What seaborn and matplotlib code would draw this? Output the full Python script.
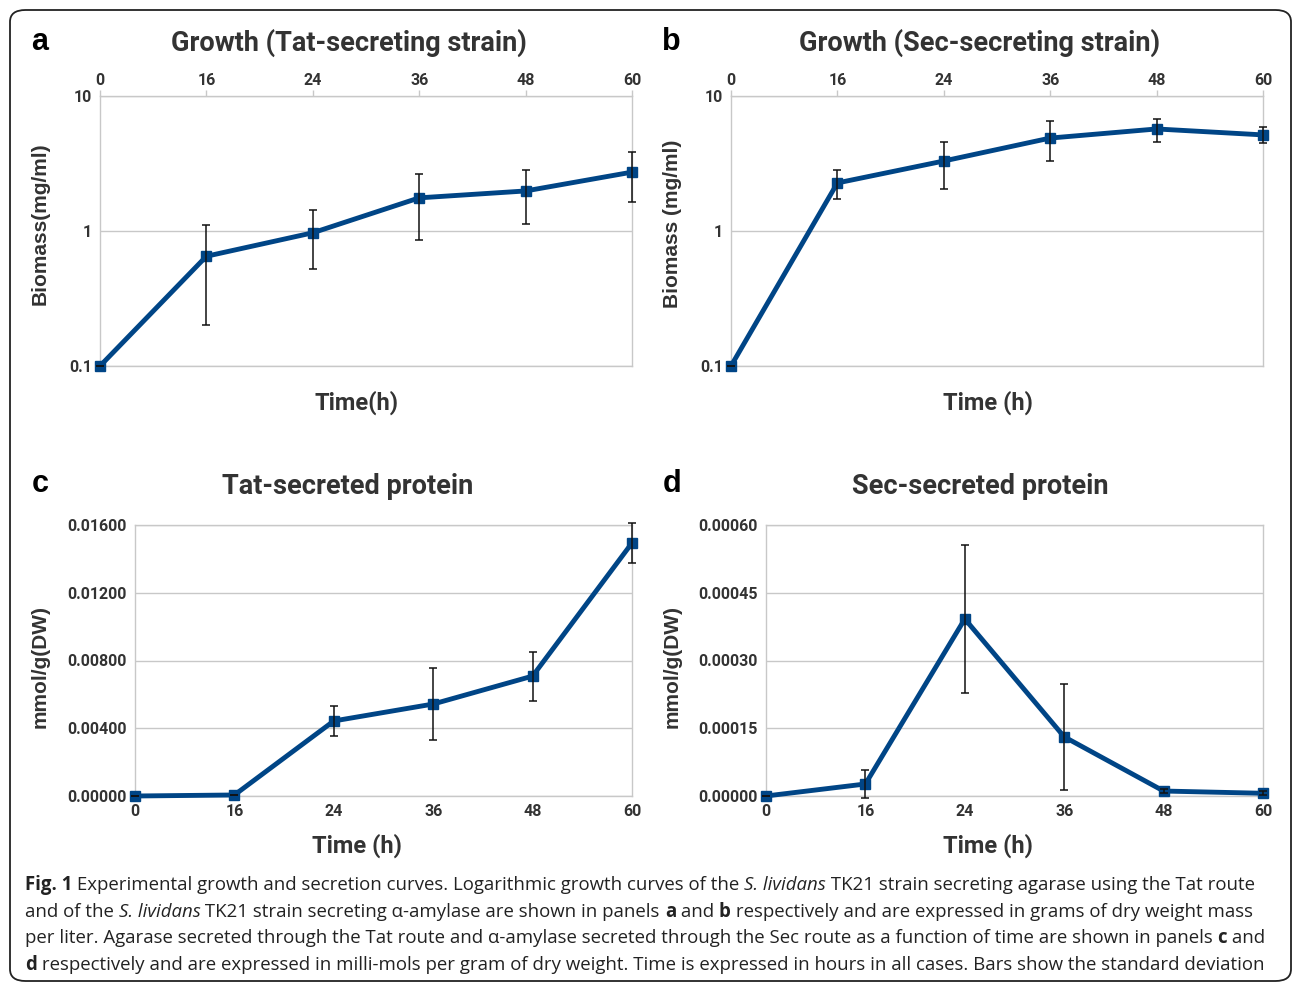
import numpy as np
import pandas as pd
import seaborn as sns
import matplotlib
matplotlib.use("Agg")
import matplotlib.pyplot as plt
from matplotlib.patches import FancyBboxPatch
from matplotlib.ticker import FixedLocator, FixedFormatter, NullLocator

# ---------------- data ----------------
times = ["0", "16", "24", "36", "48", "60"]

tat_growth = [0.10, 0.65, 0.97, 1.76, 1.98, 2.73]
tat_growth_sd = [0.0, 0.45, 0.45, 0.90, 0.85, 1.10]

sec_growth = [0.10, 2.27, 3.30, 4.88, 5.70, 5.15]
sec_growth_sd = [0.0, 0.54, 1.25, 1.60, 1.10, 0.70]

tat_protein = [0.0, 0.00006, 0.00443, 0.00543, 0.00708, 0.01494]
tat_protein_sd = [0.0, 0.00002, 0.00090, 0.00212, 0.00145, 0.00118]

sec_protein = [0.0, 0.0000266, 0.000392, 0.000131, 0.000011, 0.000006]
sec_protein_sd = [0.0, 0.000030, 0.000163, 0.000118, 0.000005, 0.000004]

log_ticks = [0.1, 1, 10]
log_tick_labels = ["0.1", "1", "10"]
tat_ticks = [0.0, 0.004, 0.008, 0.012, 0.016]
tat_tick_labels = ["0.00000", "0.00400", "0.00800", "0.01200", "0.01600"]
sec_ticks = [0.0, 0.00015, 0.00030, 0.00045, 0.00060]
sec_tick_labels = ["0.00000", "0.00015", "0.00030", "0.00045", "0.00060"]

titles = ["Growth (Tat-secreting strain)", "Growth (Sec-secreting strain)",
          "Tat-secreted protein", "Sec-secreted protein"]
letters = ["a", "b", "c", "d"]
xlabels = ["Time(h)", "Time (h)", "Time (h)", "Time (h)"]
ylabels = ["Biomass(mg/ml)", "Biomass (mg/ml)", "mmol/g(DW)", "mmol/g(DW)"]

caption_lines = [
    [("Fig. 1", "bold", "normal"),
     (" Experimental growth and secretion curves. Logarithmic growth curves of the ", "normal", "normal"),
     ("S. lividans", "normal", "italic"),
     (" TK21 strain secreting agarase using the Tat route", "normal", "normal")],
    [("and of the ", "normal", "normal"),
     ("S. lividans", "normal", "italic"),
     (" TK21 strain secreting \u03b1-amylase are shown in panels ", "normal", "normal"),
     ("a", "bold", "normal"), (" and ", "normal", "normal"), ("b", "bold", "normal"),
     (" respectively and are expressed in grams of dry weight mass", "normal", "normal")],
    [("per liter. Agarase secreted through the Tat route and \u03b1-amylase secreted through the Sec route as a function of time are shown in panels ", "normal", "normal"),
     ("c", "bold", "normal"), (" and", "normal", "normal")],
    [("d", "bold", "normal"),
     (" respectively and are expressed in milli-mols per gram of dry weight. Time is expressed in hours in all cases. Bars show the standard deviation", "normal", "normal")],
]

# ---------------- style ----------------
W, H = 1293, 983
sns.set_theme(style="white")
plt.rcParams["font.family"] = ["Liberation Sans", "DejaVu Sans"]
NARROW = ["Roboto", "Liberation Sans", "DejaVu Sans"]
BLUE = "#004586"
GRID = "#c8c8c8"
TXT = "#333333"

fig = plt.figure(figsize=(W / 100, H / 100), dpi=100)
fig.patch.set_facecolor("white")

border = FancyBboxPatch((10 / W, 1 - 981 / H), 1281 / W, 971 / H,
                        boxstyle="round,pad=0,rounding_size=0.012",
                        transform=fig.transFigure, fill=False,
                        edgecolor="#222222", linewidth=1.3)
fig.add_artist(border)


def add_ax(l, t, r, b):
    return fig.add_axes([l / W, 1 - b / H, (r - l) / W, (b - t) / H])


def fx(x):
    return x / W


def fy(y):
    return 1 - y / H


def draw_panel(ax, vals, sd, log, ticks, tick_labels, top):
    pos = list(range(len(times)))
    df = pd.DataFrame({"pos": pos, "val": vals})
    if log:
        ax.set_yscale("log")
    sns.lineplot(data=df, x="pos", y="val", ax=ax, color=BLUE, linewidth=3.5,
                 marker="s", markersize=7.5, markeredgecolor=BLUE,
                 markeredgewidth=1, clip_on=False, zorder=3)
    ax.errorbar(pos, vals, yerr=sd, fmt="none", ecolor="#111111",
                elinewidth=1.1, capsize=3.2, capthick=1.1, zorder=4, clip_on=False)
    ax.set_xlim(0, len(times) - 1)
    ax.set_ylim(ticks[0], ticks[-1])
    ax.xaxis.set_major_locator(FixedLocator(pos))
    ax.xaxis.set_major_formatter(FixedFormatter(times))
    ax.yaxis.set_major_locator(FixedLocator(ticks))
    ax.yaxis.set_major_formatter(FixedFormatter(tick_labels))
    ax.yaxis.set_minor_locator(NullLocator())
    ax.xaxis.set_minor_locator(NullLocator())
    ax.set_xlabel("")
    ax.set_ylabel("")
    ax.yaxis.grid(True, color=GRID, linewidth=1)
    ax.xaxis.grid(False)
    for s in ax.spines.values():
        s.set_color(GRID)
        s.set_linewidth(1)
    if top:
        ax.xaxis.tick_top()
    ax.tick_params(axis="both", which="major", length=4, width=1, color=GRID,
                   pad=2, labelcolor=TXT, labelsize=11.5)
    for lab in ax.get_xticklabels() + ax.get_yticklabels():
        lab.set_fontweight("bold")
        lab.set_family(NARROW)


axes_px = [(100, 96, 632, 366), (731, 96, 1263, 366),
           (135, 525, 632, 796), (766, 525, 1263, 796)]
series = [(tat_growth, tat_growth_sd, True, log_ticks, log_tick_labels, True),
          (sec_growth, sec_growth_sd, True, log_ticks, log_tick_labels, True),
          (tat_protein, tat_protein_sd, False, tat_ticks, tat_tick_labels, False),
          (sec_protein, sec_protein_sd, False, sec_ticks, sec_tick_labels, False)]

title_pos = [(349, 43), (980, 43), (348, 487), (980, 487)]
letter_pos = [(40, 42), (671, 42), (40, 484), (672, 484)]
xlabel_pos = [(357, 403), (988, 403), (357, 846), (988, 846)]
ylabel_pos = [(40, 224), (672, 224), (40, 666), (672, 666)]

for i in range(4):
    ax = add_ax(*axes_px[i])
    draw_panel(ax, *series[i])
    fig.text(fx(title_pos[i][0]), fy(title_pos[i][1]), titles[i], ha="center",
             va="center", fontsize=19.5, fontweight="bold", color=TXT, family=NARROW)
    fig.text(fx(letter_pos[i][0]), fy(letter_pos[i][1]), letters[i], ha="center",
             va="center", fontsize=22, fontweight="bold", color="black")
    fig.text(fx(xlabel_pos[i][0]), fy(xlabel_pos[i][1]), xlabels[i], ha="center",
             va="center", fontsize=17, fontweight="bold", color=TXT, family=NARROW)
    fig.text(fx(ylabel_pos[i][0]), fy(ylabel_pos[i][1]), ylabels[i], ha="center",
             va="center", rotation=90, fontsize=15, fontweight="bold", color=TXT)

# ---------------- caption ----------------
renderer = fig.canvas.get_renderer()
CAP_FAMILY = ["Open Sans", "DejaVu Sans"]
cap_y = [885, 912, 938, 965]
target_w = 1229.0


def line_width(runs, size):
    total = 0.0
    for text, wt, st in runs:
        t = fig.text(0, 0, text, fontsize=size, fontweight=wt, fontstyle=st,
                     family=CAP_FAMILY)
        total += t.get_window_extent(renderer).width
        t.remove()
    return total


cap_size = 11.0 * target_w / line_width(caption_lines[0], 11.0)

for runs, y in zip(caption_lines, cap_y):
    x = 25.0
    for text, wt, st in runs:
        t = fig.text(fx(x), fy(y), text, fontsize=cap_size, fontweight=wt,
                     fontstyle=st, family=CAP_FAMILY, ha="left", va="center",
                     color="#222222")
        x += t.get_window_extent(renderer).width

fig.savefig("out.png", dpi=100, facecolor="white")
